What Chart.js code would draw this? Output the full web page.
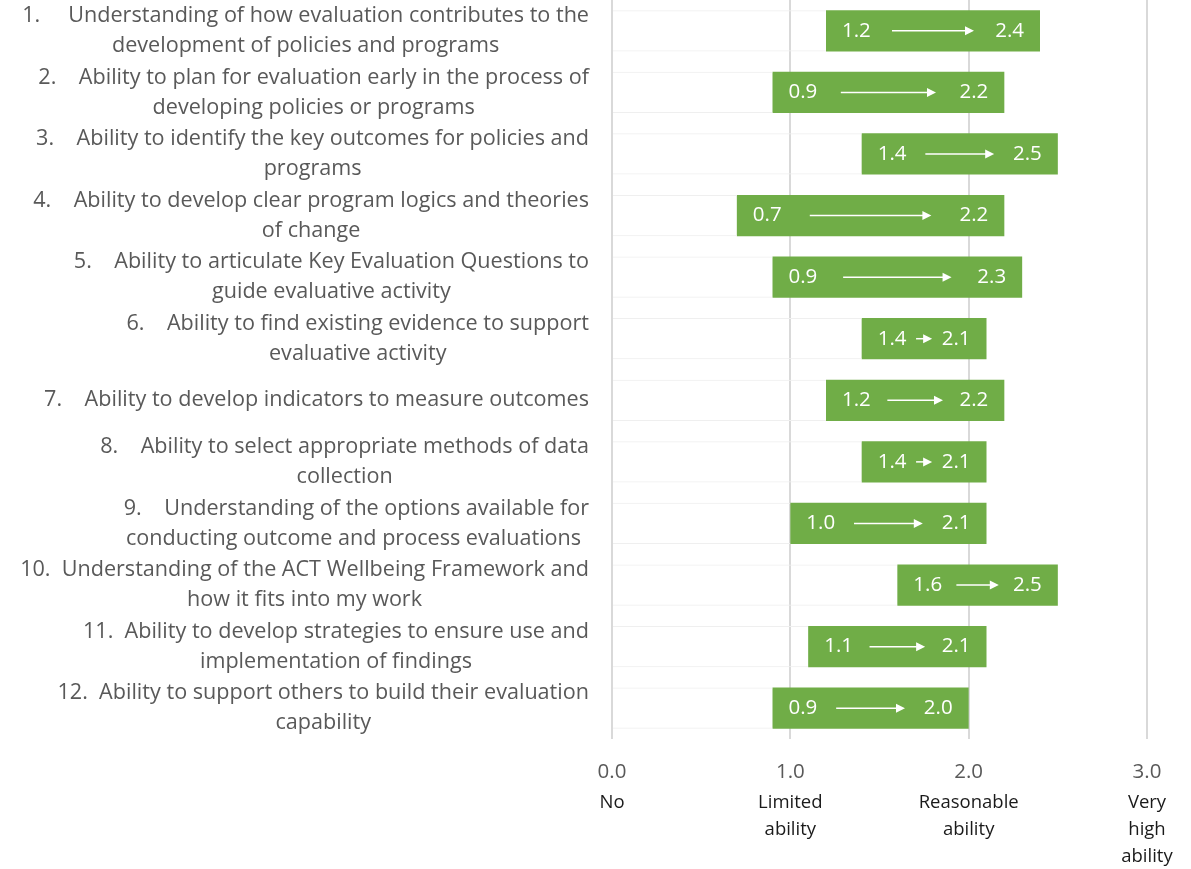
<!DOCTYPE html>
<html>
<head>
<meta charset="utf-8">
<script src="https://cdn.jsdelivr.net/npm/chart.js@4/dist/chart.umd.min.js"></script>
<style>
  body { margin: 0; background: #ffffff; }
  canvas { display: block; }
</style>
</head>
<body>
<canvas id="abilityChart" width="1191" height="869"></canvas>
<script>
// category labels, one array of lines per item (wrapped as in the original)
const categories = [
  ["1.     Understanding of how evaluation contributes to the", "development of policies and programs"],
  ["2.    Ability to plan for evaluation early in the process of", "developing policies or programs"],
  ["3.    Ability to identify the key outcomes for policies and", "programs"],
  ["4.    Ability to develop clear program logics and theories", "of change"],
  ["5.    Ability to articulate Key Evaluation Questions to", "guide evaluative activity"],
  ["6.    Ability to find existing evidence to support", "evaluative activity"],
  ["7.    Ability to develop indicators to measure outcomes"],
  ["8.    Ability to select appropriate methods of data", "collection"],
  ["9.    Understanding of the options available for", "conducting outcome and process evaluations "],
  ["10.  Understanding of the ACT Wellbeing Framework and", "how it fits into my work"],
  ["11.  Ability to develop strategies to ensure use and", "implementation of findings"],
  ["12.  Ability to support others to build their evaluation", "capability"],
];
const beforeScores = [1.2, 0.9, 1.4, 0.7, 0.9, 1.4, 1.2, 1.4, 1.0, 1.6, 1.1, 0.9];
const afterScores = [2.4, 2.2, 2.5, 2.2, 2.3, 2.1, 2.2, 2.1, 2.1, 2.5, 2.1, 2.0];
const tickValues = [0, 1, 2, 3];
const scaleNames = [["No"], ["Limited", "ability"], ["Reasonable", "ability"], ["Very", "high", "ability"]];

const FONT = "'Open Sans', sans-serif";
const GREEN = "#70AD47";

const catLabels = {
  id: "catLabels",
  afterDraw(chart) {
    const {
      ctx,
      scales: { y },
    } = chart;
    ctx.save();
    ctx.font = `21.6px ${FONT}`;
    ctx.fillStyle = "#595959";
    ctx.textAlign = "center";
    ctx.textBaseline = "middle";
    categories.forEach((lines, i) => {
      const yc = y.getPixelForValue(i);
      const w = Math.max(...lines.map((l) => ctx.measureText(l).width));
      const cx = 589 - w / 2;
      lines.forEach((l, j) => {
        ctx.fillText(l, cx, yc + (j - (lines.length - 1) / 2) * 30);
      });
    });
    ctx.restore();
  },
};

const scaleLabels = {
  id: "scaleLabels",
  afterDraw(chart) {
    const {
      ctx,
      scales: { x },
    } = chart;
    ctx.save();
    ctx.font = `18.5px ${FONT}`;
    ctx.fillStyle = "#1a1a1a";
    ctx.textAlign = "center";
    ctx.textBaseline = "middle";
    tickValues.forEach((v, i) => {
      const px = x.getPixelForValue(v);
      scaleNames[i].forEach((l, j) => {
        ctx.fillText(l, px, 803 + j * 27);
      });
    });
    ctx.restore();
  },
};

// value text and arrow inside each green bar
const barText = {
  id: "barText",
  afterDatasetsDraw(chart) {
    const { ctx } = chart;
    const meta = chart.getDatasetMeta(1);
    ctx.save();
    ctx.font = `20.5px ${FONT}`;
    ctx.fillStyle = "#ffffff";
    ctx.strokeStyle = "#ffffff";
    ctx.textBaseline = "middle";
    meta.data.forEach((bar, i) => {
      const { x, base, y } = bar.getProps(["x", "base", "y"], true);
      const left = Math.min(x, base);
      const right = Math.max(x, base);
      const t1 = beforeScores[i].toFixed(1);
      const t2 = afterScores[i].toFixed(1);
      const w1 = ctx.measureText(t1).width;
      const w2 = ctx.measureText(t2).width;
      ctx.textAlign = "left";
      ctx.fillText(t1, left + 16, y);
      ctx.textAlign = "right";
      ctx.fillText(t2, right - 16, y);
      const s = left + 16 + w1;
      const e = right - 16 - w2;
      const g = 5 + (e - s) * 0.13;
      const a0 = s + g;
      const a1 = e - g;
      ctx.lineWidth = 1.5;
      ctx.beginPath();
      ctx.moveTo(a0, y);
      ctx.lineTo(a1 - 6, y);
      ctx.stroke();
      ctx.beginPath();
      ctx.moveTo(a1, y);
      ctx.lineTo(a1 - 9, y - 4.5);
      ctx.lineTo(a1 - 9, y + 4.5);
      ctx.closePath();
      ctx.fill();
    });
    ctx.restore();
  },
};

const chart = new Chart(document.getElementById("abilityChart"), {
  type: "bar",
  data: {
    labels: categories,
    datasets: [
      {
        label: "base",
        data: beforeScores.map((b) => [0, b]),
        backgroundColor: "rgba(255,255,255,0)",
        borderColor: "#efefef",
        borderWidth: { top: 1, bottom: 1, left: 0, right: 0 },
        borderSkipped: false,
        grouped: false,
        barPercentage: 0.67,
        categoryPercentage: 1,
      },
      {
        label: "change",
        data: beforeScores.map((b, i) => [b, afterScores[i]]),
        backgroundColor: GREEN,
        borderWidth: 0,
        grouped: false,
        barPercentage: 0.67,
        categoryPercentage: 1,
      },
    ],
  },
  options: {
    indexAxis: "y",
    responsive: false,
    animation: false,
    layout: { padding: { left: 0, right: 44, top: 0, bottom: 0 } },
    plugins: {
      legend: { display: false },
      tooltip: { enabled: false },
    },
    scales: {
      x: {
        min: 0,
        max: 3,
        afterFit(scale) {
          scale.height = 130;
        },
        ticks: {
          stepSize: 1,
          padding: 21,
          color: "#595959",
          font: { family: FONT, size: 20.5 },
          callback: (v) => Number(v).toFixed(1),
        },
        grid: { color: "#d9d9d9", lineWidth: 2, drawTicks: false },
        border: { display: false },
      },
      y: {
        afterFit(scale) {
          scale.width = 612;
        },
        ticks: { display: false },
        grid: { display: false },
        border: { display: false },
      },
    },
  },
  plugins: [catLabels, scaleLabels, barText],
});
</script>
</body>
</html>
